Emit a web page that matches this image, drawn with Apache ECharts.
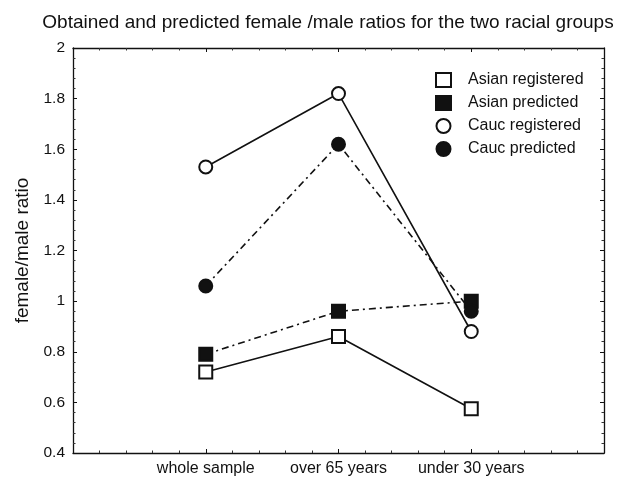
<!DOCTYPE html>
<html><head><meta charset="utf-8">
<script src="https://cdn.jsdelivr.net/npm/echarts@6/dist/echarts.min.js"></script>
<style>html,body{margin:0;padding:0;background:#fff}#c{width:620px;height:479px}</style>
</head><body><div id="c"></div>
<script>
const categories = ['whole sample', 'over 65 years', 'under 30 years'];
const asianRegistered = [0.72, 0.86, 0.575];
const asianPredicted = [0.79, 0.96, 1.00];
const caucRegistered = [1.53, 1.82, 0.88];
const caucPredicted = [1.06, 1.62, 0.96];
const yTicks = [0.4, 0.6, 0.8, 1, 1.2, 1.4, 1.6, 1.8, 2];

const toPts = arr => arr.map((v, i) => [i + 1, v]);
const F = 'Liberation Sans, Arial, sans-serif';
const chart = echarts.init(document.getElementById('c'));
const axisLine = () => ({show: true, onZero: false, lineStyle: {color: '#111', width: 1.3}});
const tick = () => ({show: true, inside: true, length: 4, lineStyle: {color: '#111'}});
const minor = () => ({show: true, splitNumber: 5, length: 2.5, lineStyle: {color: '#333'}});
function mkSeries(name, data, symbol, filled, dashed) {
  return {
    name, type: 'line', data: toPts(data), symbol, symbolSize: 13,
    itemStyle: {color: filled ? '#111' : '#fff', borderColor: '#111', borderWidth: 2},
    lineStyle: {color: '#111', width: 1.6, type: dashed ? [7, 4, 2, 4] : 'solid'},
    z: filled ? 3 : 4
  };
}
chart.setOption({
  animation: false,
  backgroundColor: '#fff',
  title: {text: 'Obtained and predicted female /male ratios for the two racial groups',
    left: 323, top: 8, textAlign: 'center',
    textStyle: {fontFamily: F, fontSize: 19, fontWeight: 'normal', color: '#111'}},
  grid: {left: 73, right: 16, top: 48, bottom: 26},
  legend: {
    orient: 'vertical', left: 430, top: 67, itemGap: 7, itemWidth: 15, itemHeight: 14,
    textStyle: {fontFamily: F, fontSize: 16, color: '#111', padding: [0, 0, 0, 12]},
    data: [
      {name: 'Asian registered', icon: 'rect', itemStyle: {color: '#fff', borderColor: '#111', borderWidth: 2}},
      {name: 'Asian predicted', icon: 'rect', itemStyle: {color: '#111', borderColor: '#111', borderWidth: 2}},
      {name: 'Cauc registered', icon: 'circle', itemStyle: {color: '#fff', borderColor: '#111', borderWidth: 2}},
      {name: 'Cauc predicted', icon: 'circle', itemStyle: {color: '#111', borderColor: '#111', borderWidth: 2}}
    ]
  },
  xAxis: [{
    type: 'value', min: 0, max: 4, interval: 1, position: 'bottom',
    axisLine: axisLine(), axisTick: tick(), minorTick: minor(), splitLine: {show: false},
    axisLabel: {fontFamily: F, fontSize: 16, color: '#111', margin: 8,
      formatter: v => categories[v - 1] || ''}
  }, {
    type: 'value', min: 0, max: 4, interval: 1, position: 'top',
    axisLine: axisLine(), axisTick: tick(), minorTick: minor(), splitLine: {show: false}, axisLabel: {show: false}
  }],
  yAxis: [{
    type: 'value', min: yTicks[0], max: yTicks[yTicks.length - 1], interval: 0.2, position: 'left',
    name: 'female/male ratio', nameLocation: 'middle', nameGap: 38, nameRotate: 90,
    nameTextStyle: {fontFamily: F, fontSize: 19, color: '#111'},
    axisLine: axisLine(), axisTick: tick(), minorTick: minor(), splitLine: {show: false},
    axisLabel: {fontFamily: F, fontSize: 15.5, color: '#111', margin: 8,
      formatter: v => String(parseFloat(v.toFixed(2)))}
  }, {
    type: 'value', min: 0.4, max: 2, interval: 0.2, position: 'right',
    axisLine: axisLine(), axisTick: tick(), minorTick: minor(), splitLine: {show: false}, axisLabel: {show: false}
  }],
  series: [
    mkSeries('Asian registered', asianRegistered, 'rect', false, false),
    mkSeries('Asian predicted', asianPredicted, 'rect', true, true),
    mkSeries('Cauc registered', caucRegistered, 'circle', false, false),
    mkSeries('Cauc predicted', caucPredicted, 'circle', true, true)
  ]
});
</script></body></html>
